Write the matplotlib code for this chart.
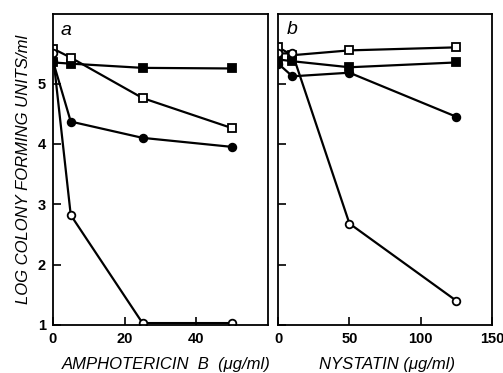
import matplotlib
matplotlib.use('agg')
import matplotlib.pyplot as plt

plt.rcParams['font.family'] = ['Liberation Sans', 'DejaVu Sans']

# panel a: amphotericin B
amph_x = [0, 5, 25, 50]
amph_filled_sq = [5.35, 5.33, 5.26, 5.25]
amph_open_sq = [5.58, 5.43, 4.76, 4.26]
amph_filled_circ = [5.38, 4.37, 4.1, 3.95]
amph_open_circ = [5.5, 2.82, 1.03, 1.03]

# panel b: nystatin
nys_x = [0, 10, 50, 125]
nys_open_sq = [5.6, 5.47, 5.55, 5.6]
nys_filled_sq = [5.4, 5.37, 5.27, 5.35]
nys_filled_circ = [5.33, 5.12, 5.18, 4.45]
nys_open_circ = [5.5, 5.5, 2.68, 1.4]

fig = plt.figure(figsize=(5.03, 3.73), dpi=100)
ax_a = fig.add_axes([0.105, 0.129, 0.428, 0.833])
ax_b = fig.add_axes([0.553, 0.129, 0.425, 0.833])

line_kw = dict(color='black', lw=1.6, markersize=5.5, markeredgewidth=1.3)


def draw(ax, x, series):
    for y, marker, filled in series:
        ax.plot(x, y, marker=marker, markerfacecolor='black' if filled else 'white',
                markeredgecolor='black', **line_kw)


draw(ax_a, amph_x, [(amph_filled_sq, 's', True), (amph_open_sq, 's', False),
                    (amph_filled_circ, 'o', True), (amph_open_circ, 'o', False)])
draw(ax_b, nys_x, [(nys_open_sq, 's', False), (nys_filled_sq, 's', True),
                   (nys_filled_circ, 'o', True), (nys_open_circ, 'o', False)])

ax_a.set_xlim(0, 60)
ax_b.set_xlim(0, 150)
for ax in (ax_a, ax_b):
    ax.set_ylim(1, 6.15)
    ax.set_yticks([1, 2, 3, 4, 5])
    ax.tick_params(direction='in', length=6, width=1.2, labelsize=10.5, pad=5)
    for s in ax.spines.values():
        s.set_linewidth(1.3)
    for lab in ax.get_xticklabels() + ax.get_yticklabels():
        lab.set_fontweight('bold')

ax_a.set_xticks([0, 20, 40])
ax_b.set_xticks([0, 50, 100, 150])
ax_b.set_yticklabels([])

ax_a.text(3.7, 5.88, 'a', fontsize=14, style='italic', ha='center', va='center')
ax_b.text(10, 5.9, 'b', fontsize=14, style='italic', ha='center', va='center')

ax_a.set_ylabel('LOG COLONY FORMING UNITS/ml', fontsize=12, style='italic', labelpad=5)
fig.text(0.330, 0.022, 'AMPHOTERICIN  B  (\u03bcg/ml)', fontsize=12, style='italic',
         ha='center', va='center')
fig.text(0.769, 0.022, 'NYSTATIN (\u03bcg/ml)', fontsize=12, style='italic',
         ha='center', va='center')

plt.savefig('out.png', dpi=100)
plt.close()
